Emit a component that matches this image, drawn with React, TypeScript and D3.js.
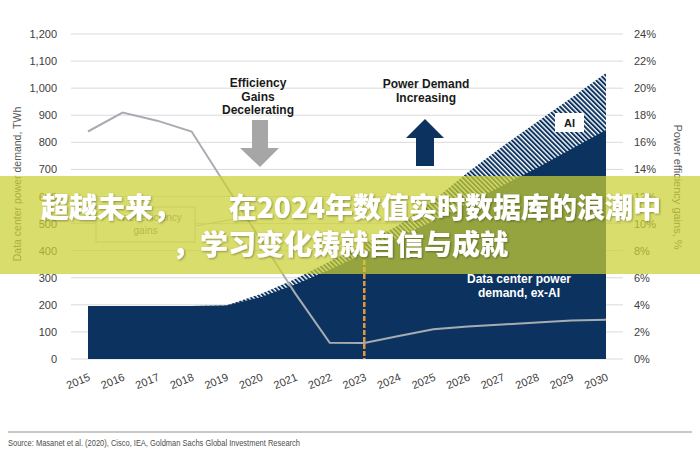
import React from "react";
import * as d3 from "d3";

const years = [2015, 2016, 2017, 2018, 2019, 2020, 2021, 2022, 2023, 2024, 2025, 2026, 2027, 2028, 2029, 2030];
const demandExAI = [196, 196, 196, 196, 198, 228, 275, 330, 390, 450, 510, 575, 640, 705, 775, 846];
const demandTotal = [196, 196, 196, 196, 198, 240, 295, 360, 425, 495, 585, 690, 785, 875, 965, 1056];
const efficiencyGains = [16.8, 18.2, 17.6, 16.8, 12.8, 8.8, 4.85, 1.2, 1.18, 1.7, 2.2, 2.4, 2.55, 2.7, 2.85, 2.9];
const leftTicks = [0, 100, 200, 300, 400, 500, 600, 700, 800, 900, 1000, 1100, 1200];
const rightTicks = [0, 2, 4, 6, 8, 10, 12, 14, 16, 18, 20, 22, 24];
const titleLine1a = "超越未来，";
const titleLine1b = "在2024年数值实时数据库的浪潮中";
const titleLine2 = "，学习变化铸就自信与成就";

const W = 700;
const H = 455;
const FONT = "'Liberation Sans', Arial, Helvetica, sans-serif";
const NAVY = "#0c3360";

export default function App() {
  const x = d3.scalePoint<number>().domain(years).range([88, 606]);
  const y = d3.scaleLinear().domain([0, 1200]).range([359, 34]);
  const yR = d3.scaleLinear().domain([0, 24]).range([359, 34]);

  const totalArea = d3
    .area<number>()
    .x((_, i) => x(years[i])!)
    .y0(y(0))
    .y1((d) => y(d));
  const lineEff = d3
    .line<number>()
    .x((_, i) => x(years[i])!)
    .y((d) => yR(d));

  const fmt = d3.format(",");
  const x2023 = x(2023)!;

  return (
    <svg
      width={W}
      height={H}
      viewBox={`0 0 ${W} ${H}`}
      style={{ position: "absolute", left: 0, top: 0, background: "#fff" }}
    >
      <defs>
        <pattern id="hatch" patternUnits="userSpaceOnUse" width="3.4" height="3.4" patternTransform="rotate(-45)">
          <rect width="3.4" height="3.4" fill="#ffffff" />
          <line x1="1" y1="0" x2="1" y2="3.4" stroke={NAVY} strokeWidth="2" />
        </pattern>
        <filter id="shadow" x="-5%" y="-20%" width="110%" height="140%">
          <feDropShadow dx="1" dy="1" stdDeviation="0.8" floodColor="#000" floodOpacity="0.35" />
        </filter>
      </defs>
      <rect width={W} height={H} fill="#fff" />

      {/* gridlines */}
      {leftTicks.map((t) => (
        <line key={"g" + t} x1={71} x2={623} y1={y(t)} y2={y(t)} stroke="#dadada" strokeWidth={1} />
      ))}

      {/* left tick labels */}
      {leftTicks.map((t) => (
        <text key={"l" + t} x={57} y={y(t) + 4} textAnchor="end" fontFamily={FONT} fontSize={11} fill="#404040">
          {fmt(t)}
        </text>
      ))}
      {/* right tick labels */}
      {rightTicks.map((t) => (
        <text key={"r" + t} x={634} y={yR(t) + 4} textAnchor="start" fontFamily={FONT} fontSize={11} fill="#404040">
          {t + "%"}
        </text>
      ))}

      {/* axis titles */}
      <text
        transform={`translate(21,184) rotate(-90)`}
        textAnchor="middle"
        fontFamily={FONT}
        fontSize={10.5}
        fill="#595959"
      >
        Data center power demand, TWh
      </text>
      <text
        transform={`translate(674,187) rotate(90)`}
        textAnchor="middle"
        fontFamily={FONT}
        fontSize={11}
        fill="#595959"
      >
        Power efficiency gains, %
      </text>

      {/* areas */}
      <path d={totalArea(demandTotal)!} fill="url(#hatch)" />
      <path d={totalArea(demandExAI)!} fill={NAVY} />

      {/* x tick labels */}
      {years.map((yr) => (
        <text
          key={"x" + yr}
          transform={`translate(${x(yr)! + 3},380) rotate(-22)`}
          textAnchor="end"
          fontFamily={FONT}
          fontSize={11}
          fill="#404040"
        >
          {yr}
        </text>
      ))}

      {/* dashed 2023 marker */}
      <line x1={x2023} x2={x2023} y1={232} y2={359} stroke="#e8963c" strokeWidth={2.5} strokeDasharray="5,2" />

      {/* efficiency line */}
      <path d={lineEff(efficiencyGains)!} fill="none" stroke="#a8acb2" strokeWidth={2} />

      {/* power efficiency gains box */}
      <line x1={195} y1={226} x2={241} y2={218} stroke="#bfbfbf" strokeWidth={1} />
      <rect x={96} y={207} width={99} height={35} fill="#fff" stroke="#c8c8c8" strokeWidth={1} />
      <text x={145.5} y={221} textAnchor="middle" fontFamily={FONT} fontSize={10} fill="#7f7f7f">
        Power efficiency
      </text>
      <text x={145.5} y={234} textAnchor="middle" fontFamily={FONT} fontSize={10} fill="#7f7f7f">
        gains
      </text>

      {/* annotation: efficiency decelerating */}
      {["Efficiency", "Gains", "Decelerating"].map((s, i) => (
        <text key={s} x={258} y={87 + i * 13.7} textAnchor="middle" fontFamily={FONT} fontWeight="bold" fontSize={12} fill="#1a1a1a">
          {s}
        </text>
      ))}
      <path d="M252,120 L268,120 L268,148 L279,148 L260,167 L240,148 L252,148 Z" fill="#a6a6a6" />

      {/* annotation: power demand increasing */}
      {["Power Demand", "Increasing"].map((s, i) => (
        <text key={s} x={426} y={88 + i * 14} textAnchor="middle" fontFamily={FONT} fontWeight="bold" fontSize={12} fill="#1a1a1a">
          {s}
        </text>
      ))}
      <path d="M425,119 L444,138 L434,138 L434,166 L416,166 L416,138 L406,138 Z" fill={NAVY} />

      {/* AI label */}
      <rect x={555} y={113} width={29} height={19} fill="#fff" />
      <text x={569.5} y={126.5} textAnchor="middle" fontFamily={FONT} fontWeight="bold" fontSize={11} fill="#1a1a1a">
        AI
      </text>

      {/* ex-AI label */}
      <text x={519} y={283} textAnchor="middle" fontFamily={FONT} fontWeight="bold" fontSize={12} fill="#ffffff">
        Data center power
      </text>
      <text x={519} y={297} textAnchor="middle" fontFamily={FONT} fontWeight="bold" fontSize={12} fill="#ffffff">
        demand, ex-AI
      </text>

      {/* source */}
      <line x1={8} x2={692} y1={432} y2={432} stroke="#c8c8c8" strokeWidth={2} />
      <text
        x={8}
        y={446}
        fontFamily="'Liberation Sans Narrow', 'Liberation Sans', Arial, sans-serif"
        fontSize={9.5}
        fill="#4d4d4d"
        textLength={292}
        lengthAdjust="spacingAndGlyphs"
      >
        Source: Masanet et al. (2020), Cisco, IEA, Goldman Sachs Global Investment Research
      </text>

      {/* banner */}
      <rect x={0} y={176} width={W} height={98} fill="rgba(202,208,50,0.72)" />
      <g filter="url(#shadow)" fontFamily="'Noto Sans CJK SC', sans-serif" fontWeight={900} fontSize={28} fill="#ffffff">
        <text x={41} y={218}>{titleLine1a}</text>
        <text x={661} y={218} textAnchor="end">{titleLine1b}</text>
        <text x={340} y={255} textAnchor="middle">{titleLine2}</text>
      </g>
    </svg>
  );
}
